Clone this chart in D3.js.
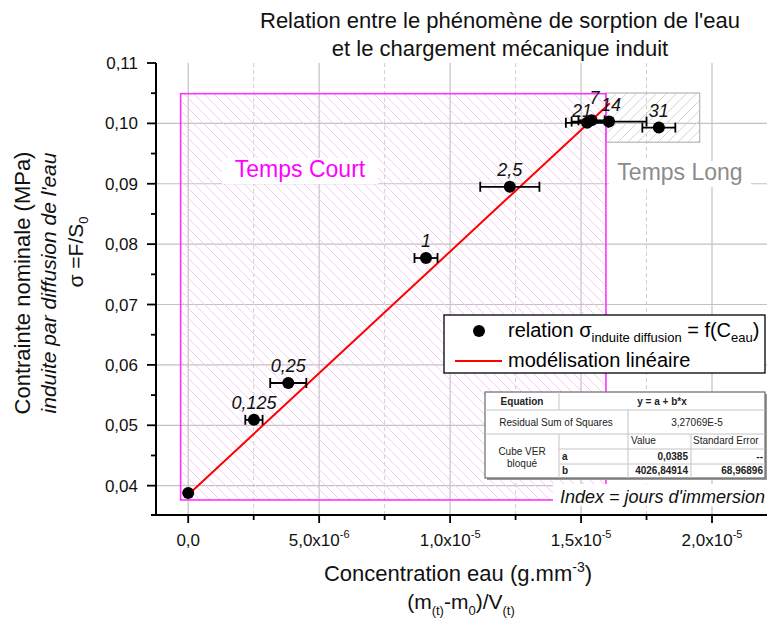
<!DOCTYPE html>
<html><head><meta charset="utf-8">
<script src="https://cdn.jsdelivr.net/npm/d3@7"></script>
<style>body{margin:0;background:#fff} svg{display:block;font-family:Arial,"Liberation Sans",sans-serif}</style>
</head><body><svg id="c" width="767" height="618"></svg>
<script>
// ---- data ----
const immersionDays = ["", "0,125", "0,25", "1", "2,5", "7", "14", "21", "31"];
const concentration = [0, 2.51e-6, 3.82e-6, 9.08e-6, 1.228e-5, 1.540e-5, 1.607e-5, 1.523e-5, 1.797e-5];
const stress = [0.0388, 0.0509, 0.0570, 0.0777, 0.0895, 0.1005, 0.1003, 0.1001, 0.0993];
const concentrationErr = [0, 3.3e-7, 6.9e-7, 4.4e-7, 1.13e-6, 5.0e-7, 1.43e-6, 8.1e-7, 6.3e-7];
const fitA = 0.0385, fitB = 4026.84914;
const fitRange = [0, 1.61e-5];
const xTickValues = [0, 5e-6, 1e-5, 1.5e-5, 2e-5];
const xMinorValues = [2.5e-6, 7.5e-6, 1.25e-5, 1.75e-5];
const xTickMantissa = ["0,0", "5,0x10", "1,0x10", "1,5x10", "2,0x10"];
const xTickExponent = ["", "-6", "-5", "-5", "-5"];
const yTickValues = [0.04, 0.05, 0.06, 0.07, 0.08, 0.09, 0.10, 0.11];
const yMinorValues = [0.045, 0.055, 0.065, 0.075, 0.085, 0.095, 0.105];
const yTickLabels = ["0,04", "0,05", "0,06", "0,07", "0,08", "0,09", "0,10", "0,11"];
const shortZone = [-2.9e-7, 1.595e-5, 0.03763, 0.10492];
const longZone = [1.595e-5, 1.953e-5, 0.09688, 0.10503];

// ---- layout ----
const svg = d3.select("#c");
const x = d3.scaleLinear().domain([-1.23e-6, 2.21e-5]).range([156, 767]);
const y = d3.scaleLinear().domain([0.03514, 0.11]).range([515, 63]);
// small label nudges for the crowded cluster (by label text)
const labelNudge = {"21": [-5, 5], "7": [3, -5], "14": [2, 0]};

const defs = svg.append("defs");
const p1 = defs.append("pattern").attr("id","hatchPink").attr("patternUnits","userSpaceOnUse")
  .attr("width",10).attr("height",10);
p1.append("path").attr("d","M0,0L10,10M-1,9L1,11M9,-1L11,1").attr("stroke","#f7c8f7").attr("stroke-width",1);
const p2 = defs.append("pattern").attr("id","hatchGray").attr("patternUnits","userSpaceOnUse")
  .attr("width",10).attr("height",10);
p2.append("path").attr("d","M0,10L10,0M-1,1L1,-1M9,11L11,9").attr("stroke","#d6d6d6").attr("stroke-width",1);

// grid
const g = svg.append("g");
g.selectAll(".vmaj").data(xTickValues).join("line")
  .attr("x1",d=>x(d)).attr("x2",d=>x(d)).attr("y1",y.range()[1]).attr("y2",y.range()[0])
  .attr("stroke","#c2c2c2").attr("stroke-width",1.2);
g.selectAll(".vmin").data(xMinorValues).join("line")
  .attr("x1",d=>x(d)).attr("x2",d=>x(d)).attr("y1",y.range()[1]).attr("y2",y.range()[0])
  .attr("stroke","#cfcfcf").attr("stroke-width",1).attr("stroke-dasharray","4,3");
g.selectAll(".hmaj").data(yTickValues.slice(0,-1)).join("line")
  .attr("x1",x.range()[0]).attr("x2",x.range()[1]).attr("y1",d=>y(d)).attr("y2",d=>y(d))
  .attr("stroke","#c2c2c2").attr("stroke-width",1.2);

// zones
function zone(z, fill, stroke, sw){
  svg.append("rect").attr("x",x(z[0])).attr("y",y(z[3])).attr("width",x(z[1])-x(z[0]))
    .attr("height",y(z[2])-y(z[3])).attr("fill",fill).attr("stroke",stroke).attr("stroke-width",sw);
}
zone(longZone, "url(#hatchGray)", "#b5b5b5", 1.2);
zone(shortZone, "url(#hatchPink)", "#ff33ff", 1.6);

// zone labels with white background
function boxLabel(txt, cx, base, color, w){
  svg.append("rect").attr("x",cx-w/2).attr("y",base-19).attr("width",w).attr("height",26).attr("fill","#fff");
  svg.append("text").attr("x",cx).attr("y",base).attr("text-anchor","middle")
    .attr("font-size",23).attr("fill",color).text(txt);
}
boxLabel("Temps Court", 300, 177, "#ff00ff", 156);
boxLabel("Temps Long", 680, 180, "#8c8c8c", 142);

// legend
const lg = svg.append("g");
lg.append("rect").attr("x",444).attr("y",315).attr("width",321).attr("height",58)
  .attr("fill","#fff").attr("stroke","#000").attr("stroke-width",1.3);
lg.append("circle").attr("cx",479).attr("cy",331).attr("r",6).attr("fill","#000");
lg.append("line").attr("x1",455).attr("x2",502).attr("y1",361).attr("y2",361).attr("stroke","#ff0000").attr("stroke-width",2);
const lt = lg.append("text").attr("x",508).attr("y",337).attr("font-size",20);
lt.append("tspan").text("relation σ");
lt.append("tspan").attr("font-size",13).attr("dy",5).text("induite diffusion");
lt.append("tspan").attr("dy",-5).text(" = f(C");
lt.append("tspan").attr("font-size",13).attr("dy",5).text("eau");
lt.append("tspan").attr("dy",-5).text(")");
lg.append("text").attr("x",508).attr("y",367).attr("font-size",20).text("modélisation linéaire");

// table
const tb = svg.append("g").attr("font-size",10).attr("fill","#222");
tb.append("rect").attr("x",487).attr("y",394).attr("width",280).attr("height",86).attr("fill","#9a9a9a");
tb.append("rect").attr("x",485).attr("y",392).attr("width",280).attr("height",86)
  .attr("fill","#fff").attr("stroke","#6a6a6a").attr("stroke-width",1.2);
const tl = [[485,410,765,410],[485,434,765,434],[559,449,765,449],[559,464,765,464],
  [559,392,559,410],[559,434,559,478],[628,410,628,478],[691,434,691,478]];
tb.selectAll(".tl").data(tl).join("line").attr("x1",d=>d[0]).attr("y1",d=>d[1]).attr("x2",d=>d[2]).attr("y2",d=>d[3])
  .attr("stroke","#c4c4c4").attr("stroke-width",1);
function tt(t, xx, yy, anchor, bold){
  tb.append("text").attr("x",xx).attr("y",yy).attr("text-anchor",anchor||"start")
    .attr("font-weight",bold?"bold":"normal").text(t);
}
tt("Equation",522,405,"middle",true);
tt("y = a + b*x",662,405,"middle",true);
tt("Residual Sum of Squares",556,426,"middle");
tt("3,27069E-5",697,426,"middle");
tt("Value",631,444); tt("Standard Error",693,444);
tt("Cube VER",522,455,"middle"); tt("bloqué",522,467,"middle");
tt("a",562,460,"start",true); tt("0,0385",688,460,"end",true); tt("--",763,460,"end",true);
tt("b",562,474,"start",true); tt("4026,84914",688,474,"end",true); tt("68,96896",763,474,"end",true);

// index note
svg.append("rect").attr("x",553).attr("y",484).attr("width",214).attr("height",22).attr("fill","#fff");
svg.append("text").attr("x",765).attr("y",503).attr("text-anchor","end").attr("font-size",18)
  .attr("font-style","italic").attr("fill","#111").text("Index = jours d'immersion");

// fit line
svg.append("line").attr("x1",x(fitRange[0])).attr("y1",y(fitA+fitB*fitRange[0]))
  .attr("x2",x(fitRange[1])).attr("y2",y(fitA+fitB*fitRange[1]))
  .attr("stroke","#ff0000").attr("stroke-width",2);

// error bars and points
const idx = d3.range(concentration.length);
const eb = svg.append("g").attr("stroke","#000").attr("stroke-width",1.8);
idx.filter(i=>concentrationErr[i]>0).forEach(i=>{
  const x0 = x(concentration[i]-concentrationErr[i]), x1 = x(concentration[i]+concentrationErr[i]), yy = y(stress[i]);
  eb.append("line").attr("x1",x0).attr("x2",x1).attr("y1",yy).attr("y2",yy);
  eb.append("line").attr("x1",x0).attr("x2",x0).attr("y1",yy-5).attr("y2",yy+5);
  eb.append("line").attr("x1",x1).attr("x2",x1).attr("y1",yy-5).attr("y2",yy+5);
});
svg.append("g").selectAll("circle").data(idx).join("circle")
  .attr("cx",i=>x(concentration[i])).attr("cy",i=>y(stress[i])).attr("r",6).attr("fill","#000");
svg.append("g").selectAll("text").data(idx).join("text")
  .attr("x",i=>x(concentration[i]) + (labelNudge[immersionDays[i]]||[0,0])[0])
  .attr("y",i=>y(stress[i]) - 11 + (labelNudge[immersionDays[i]]||[0,0])[1])
  .attr("text-anchor","middle")
  .attr("font-size",18).attr("font-style","italic").attr("fill","#111").text(i=>immersionDays[i]);

// axes
const ax = svg.append("g").attr("stroke","#000");
ax.append("line").attr("x1",156).attr("x2",156).attr("y1",y.range()[1]).attr("y2",516).attr("stroke-width",2);
ax.append("line").attr("x1",151).attr("x2",767).attr("y1",515).attr("y2",515).attr("stroke-width",2);
ax.selectAll(".yt").data(yTickValues).join("line").attr("x1",147).attr("x2",156)
  .attr("y1",d=>y(d)).attr("y2",d=>y(d)).attr("stroke-width",1.8);
ax.selectAll(".ym").data(yMinorValues).join("line").attr("x1",151).attr("x2",156)
  .attr("y1",d=>y(d)).attr("y2",d=>y(d)).attr("stroke-width",1.8);
ax.selectAll(".xt").data(xTickValues).join("line").attr("x1",d=>x(d)).attr("x2",d=>x(d))
  .attr("y1",515).attr("y2",523).attr("stroke-width",1.8);
ax.selectAll(".xm").data(xMinorValues).join("line").attr("x1",d=>x(d)).attr("x2",d=>x(d))
  .attr("y1",515).attr("y2",520).attr("stroke-width",1.8);

svg.append("g").selectAll("text").data(yTickValues).join("text")
  .attr("x",138).attr("y",d=>y(d)+6).attr("text-anchor","end").attr("font-size",17).attr("fill","#111")
  .text((d,i)=>yTickLabels[i]);
const xl = svg.append("g").selectAll("text").data(xTickValues).join("text")
  .attr("x",d=>x(d)).attr("y",546).attr("text-anchor","middle").attr("font-size",17).attr("fill","#111");
xl.append("tspan").text((d,i)=>xTickMantissa[i]);
xl.append("tspan").attr("font-size",11).attr("dy",-8).text((d,i)=>xTickExponent[i]);

// axis titles
const xt1 = svg.append("text").attr("x",458).attr("y",581).attr("text-anchor","middle").attr("font-size",22).attr("fill","#111");
xt1.append("tspan").text("Concentration eau (g.mm");
xt1.append("tspan").attr("font-size",14).attr("dy",-9).text("-3");
xt1.append("tspan").attr("dy",9).text(")");
const xt2 = svg.append("text").attr("x",461).attr("y",609).attr("text-anchor","middle").attr("font-size",21).attr("fill","#111");
xt2.append("tspan").text("(m");
xt2.append("tspan").attr("font-size",13).attr("dy",6).text("(t)");
xt2.append("tspan").attr("dy",-6).text("-m");
xt2.append("tspan").attr("font-size",13).attr("dy",6).text("0");
xt2.append("tspan").attr("dy",-6).text(")/V");
xt2.append("tspan").attr("font-size",13).attr("dy",6).text("(t)");

svg.append("text").attr("transform","translate(30,283) rotate(-90)").attr("text-anchor","middle")
  .attr("font-size",22).attr("fill","#111").text("Contrainte nominale (MPa)");
svg.append("text").attr("transform","translate(56,283) rotate(-90)").attr("text-anchor","middle")
  .attr("font-size",21).attr("font-style","italic").attr("fill","#111").text("induite par diffusion de l'eau");
const s3 = svg.append("text").attr("transform","translate(83,252) rotate(-90)").attr("text-anchor","middle")
  .attr("font-size",21).attr("fill","#111");
s3.append("tspan").text("σ =F/S");
s3.append("tspan").attr("font-size",13).attr("dy",5).text("0");

// title
svg.append("text").attr("x",500).attr("y",28).attr("text-anchor","middle").attr("font-size",22).attr("fill","#111")
  .text("Relation entre le phénomène de sorption de l'eau");
svg.append("text").attr("x",500).attr("y",56).attr("text-anchor","middle").attr("font-size",22).attr("fill","#111")
  .text("et le chargement mécanique induit");
</script></body></html>
